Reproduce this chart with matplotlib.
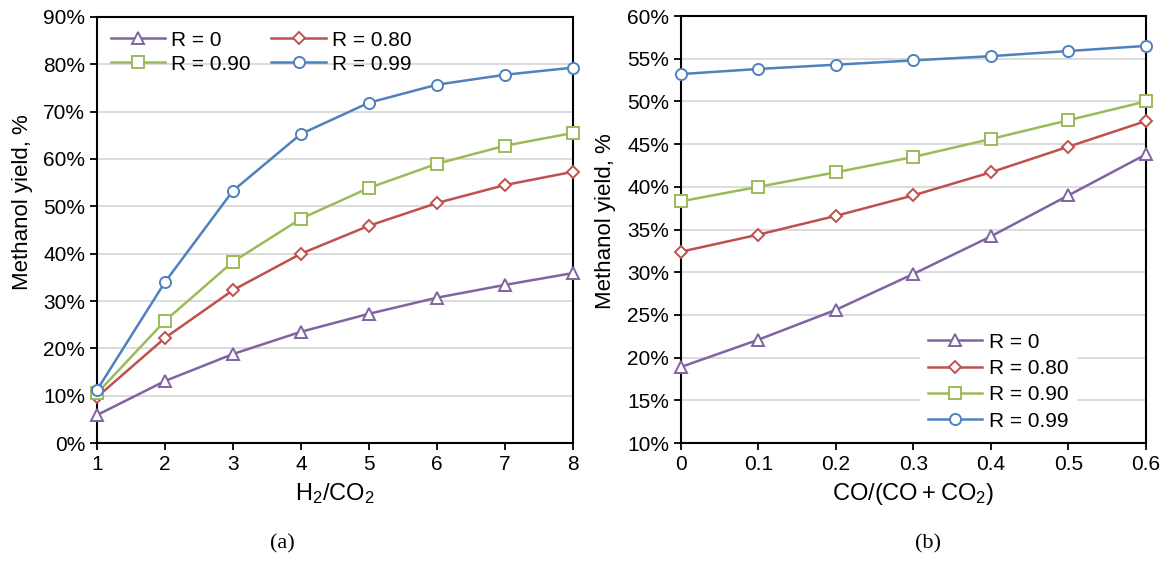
import numpy as np
import matplotlib
matplotlib.use('Agg')
import matplotlib.pyplot as plt
from matplotlib.ticker import PercentFormatter

plt.rcParams['font.family'] = ['Liberation Sans', 'DejaVu Sans']
plt.rcParams['mathtext.fontset'] = 'custom'
plt.rcParams['mathtext.rm'] = 'Liberation Sans'

# (a) yield vs H2/CO2
h2co2 = [1, 2, 3, 4, 5, 6, 7, 8]
a_r0 = [5.9, 13.1, 18.8, 23.5, 27.3, 30.7, 33.4, 35.9]
a_r80 = [9.7, 22.2, 32.3, 40.0, 45.9, 50.7, 54.5, 57.3]
a_r90 = [10.5, 25.8, 38.3, 47.4, 53.9, 59.0, 62.8, 65.5]
a_r99 = [11.2, 34.0, 53.3, 65.3, 71.9, 75.7, 77.8, 79.3]

# (b) yield vs CO/(CO+CO2)
co_frac = [0, 0.1, 0.2, 0.3, 0.4, 0.5, 0.6]
b_r0 = [18.9, 22.1, 25.6, 29.8, 34.2, 39.0, 43.8]
b_r80 = [32.4, 34.4, 36.6, 39.0, 41.7, 44.7, 47.7]
b_r90 = [38.3, 40.0, 41.7, 43.5, 45.6, 47.8, 50.0]
b_r99 = [53.2, 53.8, 54.3, 54.8, 55.3, 55.9, 56.5]

labels = ['R = 0', 'R = 0.80', 'R = 0.90', 'R = 0.99']
colors = ['#8064A2', '#C0504D', '#9BBB59', '#4F81BD']
markers = ['^', 'D', 's', 'o']
msizes = [8, 6, 8, 8]

fig = plt.figure(figsize=(11.66, 5.8), dpi=100)
ax1 = fig.add_axes([0.0832, 0.2362, 0.4082, 0.7345])
ax2 = fig.add_axes([0.584, 0.2362, 0.3988, 0.7362])


def draw(ax, x, series):
    lines = []
    for y, lab, c, m, ms in zip(series, labels, colors, markers, msizes):
        ln, = ax.plot(x, y, color=c, lw=1.8, marker=m, ms=ms, mfc='white',
                      mec=c, mew=1.4, label=lab, clip_on=False, zorder=3)
        lines.append(ln)
    ax.grid(axis='y', color='#d9d9d9', lw=1.3)
    ax.set_axisbelow(True)
    ax.yaxis.set_major_formatter(PercentFormatter(decimals=0))
    ax.tick_params(labelsize=15, direction='out', length=5, width=1.3)
    for s in ax.spines.values():
        s.set_linewidth(1.5)
    ax.set_ylabel('Methanol yield, %', fontsize=16)
    return lines


lines1 = draw(ax1, h2co2, [a_r0, a_r80, a_r90, a_r99])
ax1.set_xlim(1, 8)
ax1.set_ylim(0, 90)
ax1.set_xticks(h2co2)
ax1.set_yticks(np.arange(0, 91, 10))
ax1.set_xlabel(r'$\mathregular{H_2/CO_2}$', fontsize=17, labelpad=5)
ax1.yaxis.set_label_coords(-0.135, 0.565)
# legend filled row by row like the original
order = [0, 2, 1, 3]
ax1.legend([lines1[i] for i in order], [labels[i] for i in order],
           loc='upper left', ncol=2, fontsize=15, frameon=False,
           handlelength=2.6, columnspacing=1.0, borderaxespad=0.25,
           handletextpad=0.3, labelspacing=0.25)

draw(ax2, co_frac, [b_r0, b_r80, b_r90, b_r99])
ax2.set_xlim(0, 0.6)
ax2.set_ylim(10, 60)
ax2.set_xticks(co_frac)
ax2.set_xticklabels(['0', '0.1', '0.2', '0.3', '0.4', '0.5', '0.6'])
ax2.set_yticks(np.arange(10, 61, 5))
ax2.set_xlabel(r'$\mathregular{CO/(CO+CO_2)}$', fontsize=17, labelpad=5)
ax2.yaxis.set_label_coords(-0.14, 0.52)
ax2.legend(loc='lower right', fontsize=15, frameon=True, fancybox=False,
           edgecolor='none', facecolor='white', framealpha=1,
           handlelength=2.6, borderaxespad=0.2, handletextpad=0.3,
           labelspacing=0.35, bbox_to_anchor=(0.86, 0.0))

fig.text(0.242, 0.062, '(a)', fontsize=16, family='Liberation Serif',
         ha='center', va='center')
fig.text(0.796, 0.062, '(b)', fontsize=16, family='Liberation Serif',
         ha='center', va='center')

fig.savefig('out.png', dpi=100)
